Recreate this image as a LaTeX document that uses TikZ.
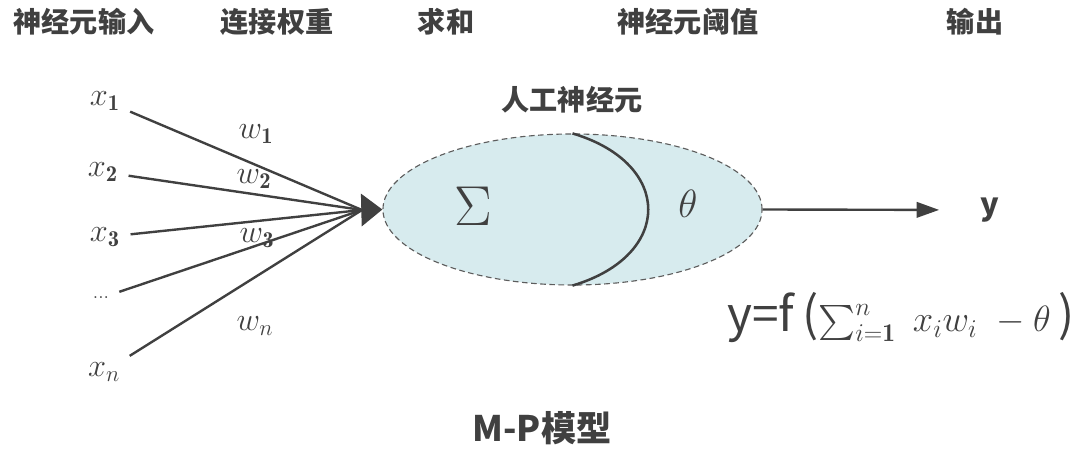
\RequirePackage{fix-cm}
\documentclass[tikz,border=0pt]{standalone}
\usepackage{amsmath}
\usepackage{fontspec}
\newfontfamily\cjk{Noto Sans CJK SC}
\usetikzlibrary{shapes.geometric,arrows.meta}
\definecolor{ink}{HTML}{404040}
\definecolor{cellfill}{HTML}{D7EBEE}
\tikzset{
  head/.style={font=\cjk\bfseries\fontsize{20pt}{22pt}\selectfont, text=ink},
  inlabel/.style={font=\fontsize{23pt}{26pt}\selectfont, text=ink},
  wire/.style={draw=ink, line width=1.7pt},
}
\begin{document}
\begin{tikzpicture}[x=0.025cm, y=-0.025cm]
        \useasboundingbox (0,0) rectangle (1080,464);
        %column titles
        \node[head] (tin) at (84,22) {神经元输入};
        \node[head] (tweight) at (277,22) {连接权重};
        \node[head] (tsum) at (446,22) {求和};
        \node[head] (tthr) at (688,22) {神经元阈值};
        \node[head] (tout) at (975,22) {输出};
        %neuron body
        \node[ellipse, draw=ink!85, dash pattern=on 4pt off 2.5pt, line width=0.8pt,
              fill=cellfill, minimum width=9.475cm, minimum height=3.775cm,
              inner sep=0] (neuron) at (572.5,209.5) {};
        \draw[wire, line width=1.8pt] (neuron.north) .. controls +(101,30) and
              +(101,-30) .. (neuron.south);
        \node[font=\fontsize{40pt}{42pt}\selectfont, text=ink] (sum) at (473,206) {$\Sigma$};
        \node[font=\fontsize{28pt}{30pt}\selectfont, text=ink] (thr) at (688,204) {$\theta$};
        \node[head] (tname) at (572,100) {人工神经元};
        %inputs
        \node[inlabel] (x1) at (105,101) {$x_{\mathbf{1}}$};
        \node[inlabel] (x2) at (103,172) {$x_{\mathbf{2}}$};
        \node[inlabel] (x3) at (105,237) {$x_{\mathbf{3}}$};
        \node[inlabel, font=\fontsize{14pt}{16pt}\selectfont] (xdots) at (101,298) {...};
        \node[inlabel] (xn) at (104,372) {$x_n$};
        \coordinate (hub) at (362,210);
        \draw[wire, shorten <=4pt] (x1) -- (hub);
        \draw[wire, shorten <=4pt] (x2) -- (hub);
        \draw[wire, shorten <=4pt] (x3) -- (hub);
        \draw[wire, shorten <=4pt] (xdots) -- (hub);
        \draw[wire, shorten <=4pt] (xn) -- (hub);
        \draw[wire, -{Triangle[length=15pt,width=23pt]}] (hub) -- (neuron.west);
        %weights
        \node[inlabel] (w1) at (256,134) {$w_{\mathbf{1}}$};
        \node[inlabel] (w2) at (254,179) {$w_{\mathbf{2}}$};
        \node[inlabel] (w3) at (257,238) {$w_{\mathbf{3}}$};
        \node[inlabel] (wn) at (255,326) {$w_n$};
        %output
        \node[font=\cjk\bfseries\fontsize{22pt}{24pt}\selectfont, text=ink] (yout) at (990,210) {y};
        \draw[wire, -{Triangle[length=16pt,width=11pt]}, shorten >=26pt] (neuron.east) -- (yout.west);
        \node[anchor=base west, inner sep=0, text=ink] (rule) at (727,332)
              {{\cjk\fontsize{34pt}{40pt}\selectfont y=f\,(}{\fontsize{26pt}{30pt}\selectfont
              $\sum_{i=\mathbf{1}}^{n}\ x_iw_i\ -\theta$}{\cjk\fontsize{34pt}{40pt}\selectfont\,)}};
        \node[font=\cjk\bfseries\fontsize{25pt}{28pt}\selectfont, text=ink] (model) at (542,428) {M-P模型};
\end{tikzpicture}
\end{document}
